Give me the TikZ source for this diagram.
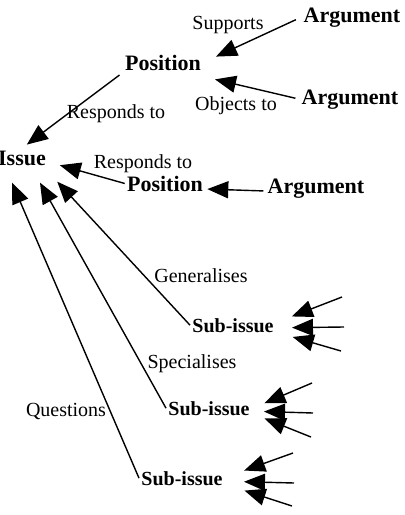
\documentclass[tikz,border=0pt]{standalone}
\usepackage{fontspec}
\setmainfont{Liberation Serif}
\usetikzlibrary{positioning, arrows.meta}

\begin{document}
\begin{tikzpicture}[
        x=0.5pt, y=-0.5pt,
        font=\fontsize{10}{12}\selectfont,
        concept/.style={font=\fontsize{11}{13}\selectfont\bfseries, inner sep=1pt, anchor=base},
        subissue/.style={font=\fontsize{10}{12}\selectfont\bfseries, inner sep=1pt, anchor=base},
        rel/.style={inner sep=1pt, anchor=base},
        arrow/.style={-{Triangle[length=10.5pt, width=8.5pt]}, line width=0.7pt}
    ]
    \useasboundingbox (0,0) rectangle (405,515);

    \node (arg1) [concept] at (352,22) {Argument};
    \node (pos1) [concept] at (163,70) {Position};
    \node (arg2) [concept] at (350,104) {Argument};
    \node (issue) [concept] at (22,165) {Issue};
    \node (pos2) [concept] at (165,191) {Position};
    \node (arg3) [concept] at (316,193) {Argument};

    \node (sub1) [subissue] at (233,332) {Sub-issue};
    \node (sub2) [subissue] at (209,415) {Sub-issue};
    \node (sub3) [subissue] at (182,485) {Sub-issue};

    \node (sup) [rel] at (228,29) {Supports};
    \node (obj) [rel] at (236,110) {Objects to};
    \node (resp1) [rel] at (116,118) {Responds to};
    \node (resp2) [rel] at (143,168) {Responds to};
    \node (gen) [rel] at (201,282) {Generalises};
    \node (spec) [rel] at (192,368) {Specialises};
    \node (quest) [rel] at (66,416) {Questions};

    \draw [arrow, shorten <=3pt, shorten >=7pt] (arg1.west) -- (pos1.east);
    \draw [arrow, shorten <=2pt, shorten >=6pt] (arg2.west) -- ([yshift=-2pt]pos1.south east);
    \draw [arrow, shorten <=2pt, shorten >=3pt] (pos1.south west) -- (issue.north);
    \draw [arrow, shorten >=6pt] (pos2.west) -- ([yshift=-2pt]issue.east);
    \draw [arrow, shorten <=1pt, shorten >=1pt] ([yshift=1pt]arg3.base west) -- ([yshift=1pt]pos2.base east);

    \draw [arrow] (sub1.west) -- ([shift={(4.5pt,-7pt)}]issue.south east);
    \draw [arrow] (sub2.west) -- ([shift={(9pt,-7.5pt)}]issue.south);
    \draw [arrow] (sub3.west) -- ([shift={(-5pt,-7.5pt)}]issue.south);

    % incoming links of the sub-issues
    \coordinate (t11) at (342,297);
    \coordinate (t12) at (344,327);
    \coordinate (t13) at (341,351);
    \coordinate (t21) at (312,383);
    \coordinate (t22) at (313,413);
    \coordinate (t23) at (311,437);
    \coordinate (t31) at (293,453);
    \coordinate (t32) at (294,483);
    \coordinate (t33) at (292,506);

    \draw [arrow, shorten >=16pt] (t11) -- ([xshift=-7pt, yshift=2pt]sub1.base east);
    \draw [arrow, shorten >=15pt] (t12) -- ([xshift=-7pt, yshift=2pt]sub1.base east);
    \draw [arrow, shorten >=16pt] (t13) -- ([xshift=-7pt, yshift=2pt]sub1.base east);
    \draw [arrow, shorten >=10pt] (t21) -- ([xshift=-3pt, yshift=2pt]sub2.base east);
    \draw [arrow, shorten >=9pt] (t22) -- ([xshift=-3pt, yshift=2pt]sub2.base east);
    \draw [arrow, shorten >=10pt] (t23) -- ([xshift=-3pt, yshift=2pt]sub2.base east);
    \draw [arrow, shorten >=15.5pt] (t31) -- ([xshift=-5pt, yshift=2pt]sub3.base east);
    \draw [arrow, shorten >=14.5pt] (t32) -- ([xshift=-5pt, yshift=2pt]sub3.base east);
    \draw [arrow, shorten >=15.5pt] (t33) -- ([xshift=-5pt, yshift=2pt]sub3.base east);
\end{tikzpicture}
\end{document}
